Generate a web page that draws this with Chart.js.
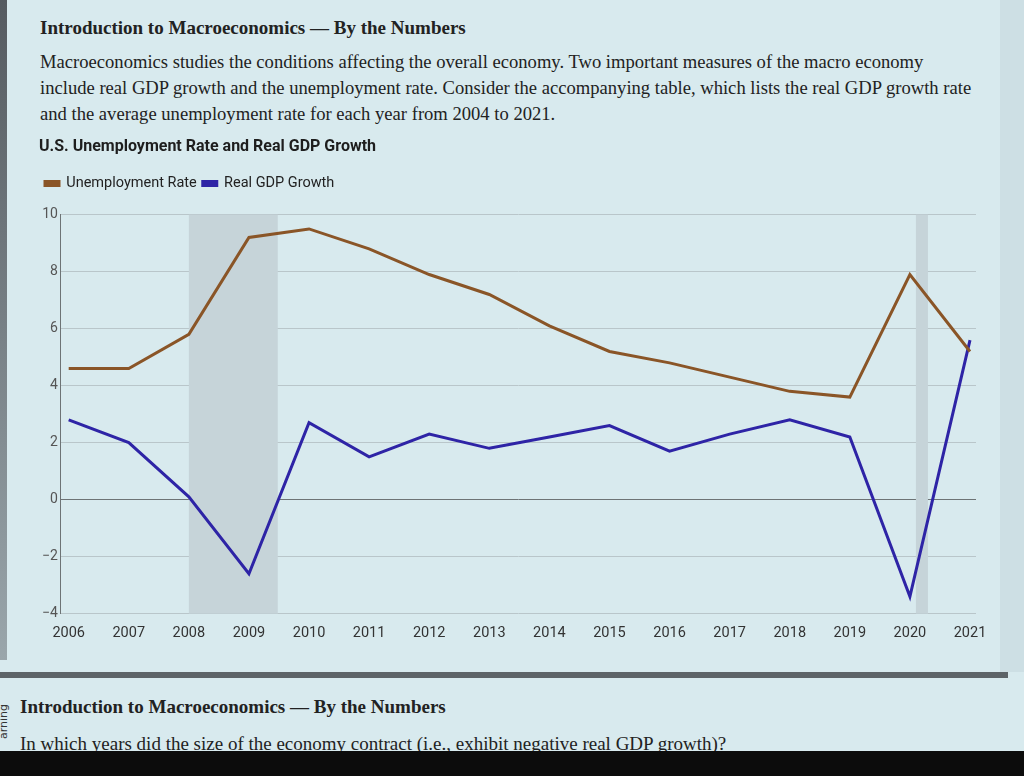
<!DOCTYPE html>
<html lang="en">
<head>
  <meta charset="UTF-8">
  <title>U.S. Unemployment Rate and Real GDP Growth</title>
  <script src="https://cdn.jsdelivr.net/npm/chart.js"></script>
  <style>
    html, body {
      margin: 0;
      padding: 0;
      width: 1024px;
      height: 776px;
      overflow: hidden;
    }
    body {
      background: #d8eaee;
      position: relative;
      font-family: "Liberation Serif", "DejaVu Serif", serif;
      color: #222;
    }
    .edge {
      position: absolute;
      left: 0; top: 0;
      width: 7px; height: 660px;
      background: linear-gradient(#555b60, #9aa6ab);
    }
    .rightstrip {
      position: absolute;
      right: 0; top: 0;
      width: 24px; height: 672px;
      background: #cddfe4;
    }
    .head {
      position: absolute;
      left: 40px; top: 17px;
      font-size: 19px;
      font-weight: bold;
    }
    .intro {
      position: absolute;
      left: 40px; top: 49px;
      font-size: 18.6px;
      line-height: 26px;
      white-space: nowrap;
    }
    .chart-box {
      position: absolute;
      left: 0; top: 133px;
      width: 1000px; height: 512px;
    }
    .sep {
      position: absolute;
      left: 0; top: 672px;
      width: 1008px; height: 6px;
      background: #5d6468;
    }
    .head2 {
      position: absolute;
      left: 20px; top: 696px;
      font-size: 19px;
      font-weight: bold;
    }
    .question {
      position: absolute;
      left: 20px; top: 733px;
      font-size: 19px;
    }
    .side {
      position: absolute;
      left: -14px; top: 715px;
      transform: rotate(-90deg);
      font-family: "DejaVu Sans", sans-serif;
      font-size: 11px;
      color: #333;
    }
    .black {
      position: absolute;
      left: 0; top: 751px;
      width: 1024px; height: 25px;
      background: #0c0c0c;
    }
  </style>
</head>
<body>
  <div class="edge"></div>
  <div class="rightstrip"></div>
  <div class="head">Introduction to Macroeconomics — By the Numbers</div>
  <div class="intro">
    Macroeconomics studies the conditions affecting the overall economy. Two important measures of the macro economy<br>
    include real GDP growth and the unemployment rate. Consider the accompanying table, which lists the real GDP growth rate<br>
    and the average unemployment rate for each year from 2004 to 2021.
  </div>
  <div class="chart-box"><canvas id="macroChart"></canvas></div>
  <div class="sep"></div>
  <div class="side">arning</div>
  <div class="head2">Introduction to Macroeconomics — By the Numbers</div>
  <div class="question">In which years did the size of the economy contract (i.e., exhibit negative real GDP growth)?</div>
  <div class="black"></div>

  <script>
    // data
    const years = [2006, 2007, 2008, 2009, 2010, 2011, 2012, 2013, 2014, 2015, 2016, 2017, 2018, 2019, 2020, 2021];
    const unemploymentRate = [4.6, 4.6, 5.8, 9.2, 9.5, 8.8, 7.9, 7.2, 6.1, 5.2, 4.8, 4.3, 3.8, 3.6, 7.9, 5.2];
    const realGdpGrowth = [2.8, 2.0, 0.1, -2.6, 2.7, 1.5, 2.3, 1.8, 2.2, 2.6, 1.7, 2.3, 2.8, 2.2, -3.4, 5.6];
    const yTicks = [-4, -2, 0, 2, 4, 6, 8, 10];
    // recession periods (shaded), in fractional years
    const recessionStart = [2008.0, 2020.1];
    const recessionEnd = [2009.48, 2020.3];

    // shade recessions behind the lines
    const recessionShade = {
      id: 'recessionShade',
      beforeDatasetsDraw(chart) {
        const { ctx, chartArea, scales } = chart;
        ctx.save();
        ctx.fillStyle = '#c6d4d9';
        for (let i = 0; i < recessionStart.length; i++) {
          const x0 = scales.x.getPixelForValue(recessionStart[i]);
          const x1 = scales.x.getPixelForValue(recessionEnd[i]);
          ctx.fillRect(x0, chartArea.top, x1 - x0, chartArea.bottom - chartArea.top);
        }
        ctx.restore();
      }
    };

    // a bit more room under the legend
    const legendGap = {
      id: 'legendGap',
      beforeInit(chart) {
        const fit = chart.legend.fit;
        chart.legend.fit = function () {
          fit.bind(this)();
          this.height += 14;
        };
      }
    };

    const ctx = document.getElementById('macroChart').getContext('2d');
    new Chart(ctx, {
      type: 'line',
      data: {
        datasets: [
          {
            label: 'Unemployment Rate',
            data: years.map((y, i) => ({ x: y, y: unemploymentRate[i] })),
            borderColor: '#8a5527',
            backgroundColor: '#8a5527',
            borderWidth: 3,
            pointRadius: 0,
            tension: 0
          },
          {
            label: 'Real GDP Growth',
            data: years.map((y, i) => ({ x: y, y: realGdpGrowth[i] })),
            borderColor: '#2e24a6',
            backgroundColor: '#2e24a6',
            borderWidth: 3,
            pointRadius: 0,
            tension: 0
          }
        ]
      },
      options: {
        responsive: true,
        maintainAspectRatio: false,
        animation: false,
        layout: { padding: { left: 39, right: 24, top: 0, bottom: 0 } },
        plugins: {
          title: {
            display: true,
            text: 'U.S. Unemployment Rate and Real GDP Growth',
            align: 'start',
            color: '#1e1e1e',
            font: { family: 'Roboto', size: 16, weight: 'bold' },
            padding: { top: 4, bottom: 14 }
          },
          legend: {
            align: 'start',
            labels: {
              boxWidth: 14,
              boxHeight: 4,
              color: '#222',
              font: { family: 'Roboto', size: 14.5 },
              padding: 6
            }
          },
          tooltip: { enabled: false }
        },
        scales: {
          x: {
            type: 'linear',
            min: 2005.87,
            max: 2021.1,
            grid: { display: false },
            border: { display: false },
            ticks: {
              stepSize: 1,
              includeBounds: false,
              color: '#333',
              font: { family: 'Roboto', size: 14.5 },
              padding: 3,
              callback: v => String(v)
            }
          },
          y: {
            min: -4,
            max: 10,
            afterBuildTicks: axis => { axis.ticks = yTicks.map(v => ({ value: v })); },
            grid: {
              drawTicks: false,
              color: ctx => ctx.tick && ctx.tick.value === 0 ? '#6d7375' : '#b9c6ca',
              lineWidth: 1
            },
            border: { display: true, color: '#6d7375', width: 1 },
            ticks: {
              color: '#555',
              font: { family: 'Roboto', size: 14 },
              padding: 3,
              callback: v => String(v).replace('-', '\u2212')
            }
          }
        }
      },
      plugins: [recessionShade, legendGap]
    });
  </script>
</body>
</html>
